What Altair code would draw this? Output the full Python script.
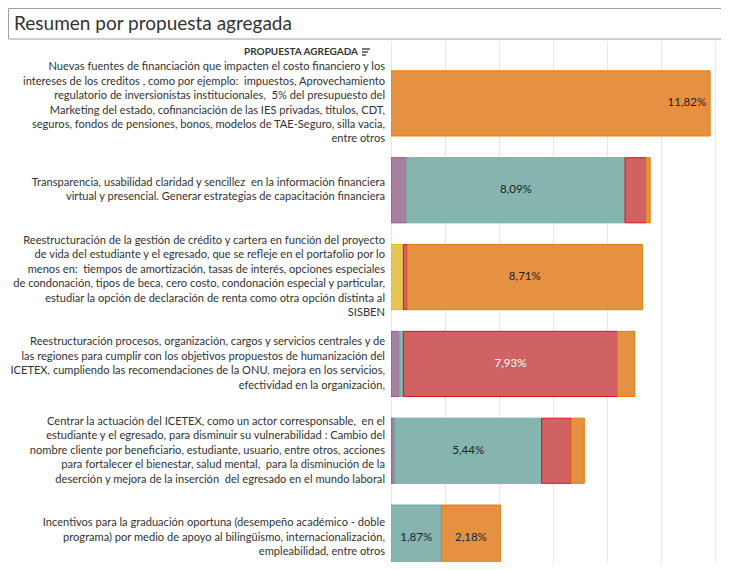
import altair as alt
import pandas as pd

# ---- data ----
propuestas = [
    "Nuevas fuentes de financiación que impacten el costo financiero y los\nintereses de los creditos , como por ejemplo:  impuestos, Aprovechamiento\nregulatorio de inversionistas institucionales,  5% del presupuesto del\nMarketing del estado, cofinanciación de las IES privadas, titulos, CDT,\nseguros, fondos de pensiones, bonos, modelos de TAE-Seguro, silla vacia,\nentre otros",
    "Transparencia, usabilidad claridad y sencillez  en la información financiera\nvirtual y presencial. Generar estrategias de capacitación financiera",
    "Reestructuración de la gestión de crédito y cartera en función del proyecto\nde vida del estudiante y el egresado, que se refleje en el portafolio por lo\nmenos en:   tiempos de amortización, tasas de interés, opciones especiales\nde condonación, tipos de beca, cero costo, condonación especial y particular,\nestudiar la opción de declaración de renta como otra opción distinta al\nSISBEN",
    "Reestructuración procesos, organización, cargos y servicios centrales y de\nlas regiones para cumplir con los objetivos propuestos de humanización del\nICETEX, cumpliendo las recomendaciones de la ONU, mejora en los servicios,\nefectividad en la organización,",
    "Centrar la actuación del ICETEX, como un actor corresponsable,  en el\nestudiante y el egresado, para disminuir su vulnerabilidad : Cambio del\nnombre cliente por beneficiario, estudiante, usuario, entre otros, acciones\npara fortalecer el bienestar, salud mental,  para la disminución de la\ndeserción y mejora de la inserción  del egresado en el mundo laboral",
    "Incentivos para la graduación oportuna (desempeño académico - doble\nprograma) por medio de apoyo al bilingüismo, internacionalización,\nempleabilidad, entre otros",
]

grupos = ["morado", "amarillo", "verde", "rojo", "naranja"]
fill_colors = ["#A77F9F", "#E8C552", "#86B5B0", "#D06263", "#E69142"]
stroke_colors = ["#9C4E8F", "#E6BE00", "#6FAFA8", "#D0141E", "#E57E00"]

morado = [0, 0.58, 0, 0.30, 0.14, 0]
amarillo = [0, 0, 0.46, 0, 0, 0]
verde = [0, 8.09, 0, 0.16, 5.44, 1.87]
rojo = [0, 0.77, 0.14, 7.93, 1.09, 0]
naranja = [11.82, 0.16, 8.71, 0.64, 0.49, 2.18]

series = [morado, amarillo, verde, rojo, naranja]

# keep repeated spaces visible in SVG text
prop_vis = [p.replace("  ", "\u00a0 ") for p in propuestas]

rows = []
for gi, (g, vals) in enumerate(zip(grupos, series)):
    for pi, (p, v) in enumerate(zip(prop_vis, vals)):
        if v > 0:
            rows.append({"propuesta": p, "pidx": pi, "grupo": g, "orden": gi, "valor": v})
df = pd.DataFrame(rows)
lab_df = pd.DataFrame({"propuesta": prop_vis})

FONT = "Lato"
PX_PER_UNIT = 27.0
PLOT_W = 330
PLOT_H = 502
LINE_H = 14.4
RANGE_H = 521
P_IN, P_OUT = 0.25, 0.125
n = len(prop_vis)
STEP = RANGE_H / (n - P_IN + 2 * P_OUT)
HALF_BAND = STEP * (1 - P_IN) / 2

xs = alt.Scale(domain=[0, PLOT_W / PX_PER_UNIT], nice=False, zero=True)
ys = alt.Scale(domain=prop_vis, range=[0, RANGE_H], paddingInner=P_IN, paddingOuter=P_OUT)

base = alt.Chart(df).transform_stack(
    stack="valor", groupby=["propuesta"], as_=["x0", "x1"],
    sort=[alt.SortField("orden", order="ascending")],
)

bars = base.mark_bar(clip=True, strokeWidth=1).encode(
    x=alt.X("x0:Q", scale=xs,
            axis=alt.Axis(values=[0, 2, 4, 6, 8, 10, 12], grid=True, gridColor="#E8E8E8",
                          gridWidth=1, labels=False, ticks=False, domain=False, title=None)),
    x2="x1:Q",
    y=alt.Y("propuesta:N", scale=ys, axis=None),
    color=alt.Color("grupo:N", scale=alt.Scale(domain=grupos, range=fill_colors), legend=None),
    stroke=alt.Stroke("grupo:N", scale=alt.Scale(domain=grupos, range=stroke_colors), legend=None),
)

lab_base = base.transform_filter("datum.valor >= 1.5").transform_calculate(
    mid="(datum.x0 + datum.x1) / 2",
    etiqueta="replace(format(datum.valor, '.2f'), '.', ',') + '%'",
)
lab_color = alt.condition("datum.grupo == 'rojo'", alt.value("#FFFFFF"), alt.value("#222222"))

val_right = lab_base.transform_filter("datum.pidx == 0").mark_text(
    align="right", baseline="middle", dx=-4, fontSize=11.5, font=FONT
).encode(
    x=alt.X("x1:Q", scale=xs), y=alt.Y("propuesta:N", scale=ys, axis=None),
    text="etiqueta:N", color=lab_color,
)
val_mid = lab_base.transform_filter("datum.pidx != 0").mark_text(
    align="center", baseline="middle", fontSize=11.5, font=FONT
).encode(
    x=alt.X("mid:Q", scale=xs), y=alt.Y("propuesta:N", scale=ys, axis=None),
    text="etiqueta:N", color=lab_color,
)

ylabels = alt.Chart(lab_df).transform_calculate(
    off=f"{HALF_BAND} - (length(split(datum.propuesta, '\\n')) - 1) / 2 * {LINE_H}"
).mark_text(
    align="right", baseline="middle", lineBreak="\n", fontSize=11.1, font=FONT,
    color="#333333", lineHeight=LINE_H,
).encode(
    y=alt.Y("propuesta:N", scale=ys, axis=None),
    yOffset=alt.YOffset("off:Q", scale=None),
    x=alt.value(-6),
    text="propuesta:N",
)

one = pd.DataFrame({"t": ["PROPUESTA AGREGADA"]})
header = alt.Chart(one).mark_text(
    align="right", baseline="middle", fontSize=10, fontWeight="bold", font=FONT, color="#333333"
).encode(text="t:N", x=alt.value(-33), y=alt.value(-8))

icon1 = alt.Chart(one).mark_rule(color="#333333", strokeWidth=1.3).encode(
    x=alt.value(-29), x2=alt.value(-21), y=alt.value(-11))
icon2 = alt.Chart(one).mark_rule(color="#333333", strokeWidth=1.3).encode(
    x=alt.value(-29), x2=alt.value(-23), y=alt.value(-8))
icon3 = alt.Chart(one).mark_rule(color="#333333", strokeWidth=1.3).encode(
    x=alt.value(-29), x2=alt.value(-25), y=alt.value(-5))

title_df = pd.DataFrame({"t": ["Resumen por propuesta agregada"]})
title_box = alt.Chart(title_df).mark_rect(fill="white", stroke="#A0A0A0", strokeWidth=1).encode(
    x=alt.value(-382.5), x2=alt.value(360), y=alt.value(-51.5), y2=alt.value(-21))
title_txt = alt.Chart(title_df).mark_text(
    align="left", baseline="middle", fontSize=19, font=FONT, color="#333333"
).encode(text="t:N", x=alt.value(-377), y=alt.value(-36))

chart = alt.layer(
    bars, val_right, val_mid, ylabels, header, icon1, icon2, icon3, title_box, title_txt
).properties(
    width=PLOT_W, height=PLOT_H,
    autosize=alt.AutoSizeParams(type="none"),
    padding={"left": 383, "top": 52, "right": 0, "bottom": 0},
).configure_view(stroke=None)

chart.save("out.html", embed_options={"renderer": "svg", "actions": False})
